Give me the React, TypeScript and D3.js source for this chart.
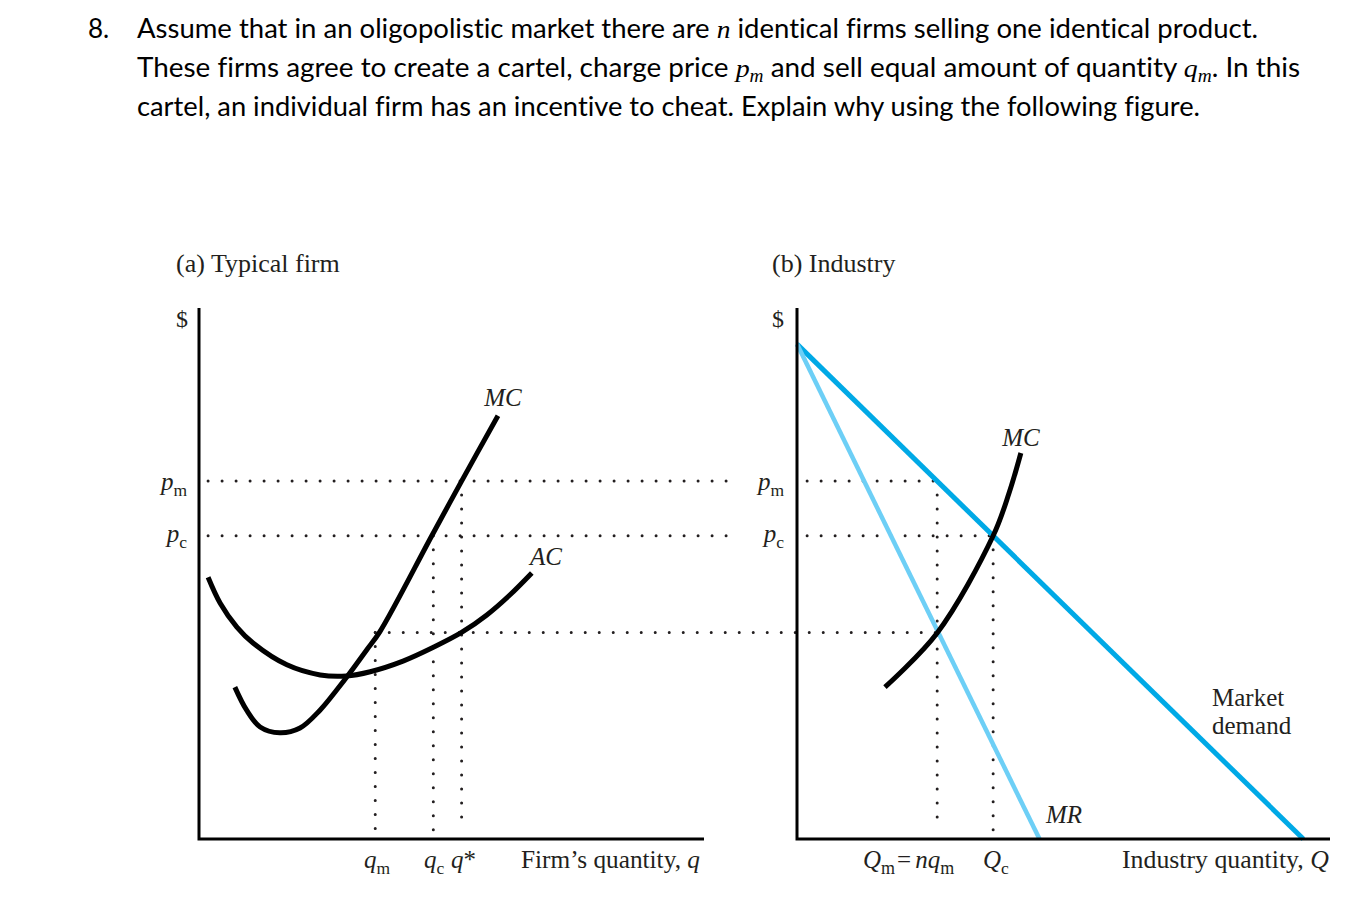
import React from "react";
import * as d3 from "d3";

const W = 1354;
const H = 910;

// ---- key levels (abstract units, 0..100) ----
const priceLevels = { pm: 67.4, pc: 57.1, pAC: 38.9 };
const firmQty = { qm: 34.9, qc: 46.4, qStar: 52.0 };
const industryQty = { Qm: 26.3, Qc: 36.8 };

// ---- panel (a) typical firm ----
const firmMC: [number, number][] = [
  [7.1, 28.6], [9.4, 24.3], [12.1, 21.1], [16.0, 20.0], [20.0, 20.9], [24.0, 24.3],
  [27.3, 28.1], [29.9, 31.3], [33.2, 35.6], [35.8, 39.0], [46.1, 57.1], [52.0, 67.4], [59.2, 79.7],
];
const firmAC: [number, number][] = [
  [1.8, 49.3], [4.2, 44.4], [7.5, 39.9], [10.7, 36.9], [17.4, 32.8], [24.0, 30.9], [29.2, 30.7],
  [33.9, 31.5], [40.4, 33.5], [46.4, 36.1], [52.0, 38.9], [57.0, 42.2], [61.6, 46.0], [65.9, 50.1],
];

// ---- panel (b) industry ----
const demand: [number, number][] = [[0, 93.2], [95, 0]];
const marginalRevenue: [number, number][] = [[0, 93.2], [45.5, 0]];
const industryMC: [number, number][] = [
  [16.5, 28.6], [26.3, 38.8], [36.8, 57.1], [39.8, 65.2], [42.0, 72.7],
];

const SERIF = '"Liberation Serif", "Times New Roman", serif';
const SANS = 'Lato, "Open Sans", sans-serif';
const INK = "#231f20";
const DEMAND_BLUE = "#00a9e6";
const MR_BLUE = "#6dcff6";

const xA = d3.scaleLinear().domain([0, 100]).range([199, 704]);
const yA = d3.scaleLinear().domain([0, 100]).range([839, 308]);
const xB = d3.scaleLinear().domain([0, 100]).range([797, 1330]);
const yB = d3.scaleLinear().domain([0, 100]).range([839, 308]);

const lineA = d3.line<[number, number]>().x((d) => xA(d[0])).y((d) => yA(d[1])).curve(d3.curveCatmullRom.alpha(0.5));
const lineB = d3.line<[number, number]>().x((d) => xB(d[0])).y((d) => yB(d[1])).curve(d3.curveCatmullRom.alpha(0.5));
const straightB = d3.line<[number, number]>().x((d) => xB(d[0])).y((d) => yB(d[1]));

const dotStyle = {
  stroke: INK,
  strokeWidth: 3,
  strokeDasharray: "0 14",
  strokeLinecap: "round" as const,
  fill: "none",
};

function Dotted({ x1, y1, x2, y2 }: { x1: number; y1: number; x2: number; y2: number }) {
  return <line x1={x1} y1={y1} x2={x2} y2={y2} style={dotStyle} />;
}

function Sub({ base, sub, x, y, anchor = "start", size = 25 }: { base: string; sub: string; x: number; y: number; anchor?: string; size?: number }) {
  return (
    <text x={x} y={y} fontFamily={SERIF} fontSize={size} fill={INK} textAnchor={anchor as any}>
      <tspan fontStyle="italic">{base}</tspan>
      <tspan fontSize={size * 0.7} dy={6}>{sub}</tspan>
    </text>
  );
}

export default function App() {
  const { pm, pc, pAC } = priceLevels;
  const { qm, qc, qStar } = firmQty;
  const { Qm, Qc } = industryQty;
  const titleSize = 26;
  return (
    <svg width={W} height={H} viewBox={`0 0 ${W} ${H}`} style={{ position: "absolute", left: 0, top: 0, background: "#fff" }}>
      {/* title */}
      <g fontFamily={SANS} fontSize={titleSize} fill="#000" style={{ fontVariantLigatures: "none" }}>
        <text x={88} y={38}>8.</text>
        <text x={137} y={38} textLength={1121} lengthAdjust="spacingAndGlyphs">
          Assume that in an oligopolistic market there are{" "}
          <tspan fontFamily={SERIF} fontStyle="italic">n</tspan> identical firms selling one identical product.
        </text>
        <text x={137} y={77} textLength={1163} lengthAdjust="spacingAndGlyphs">
          These firms agree to create a cartel, charge price{" "}
          <tspan fontFamily={SERIF} fontStyle="italic">p</tspan>
          <tspan fontFamily={SERIF} fontStyle="italic" fontSize={18} dy={5}>m</tspan>
          <tspan dy={-5}> and sell equal amount of quantity </tspan>
          <tspan fontFamily={SERIF} fontStyle="italic">q</tspan>
          <tspan fontFamily={SERIF} fontStyle="italic" fontSize={18} dy={5}>m</tspan>
          <tspan dy={-5}>. In this</tspan>
        </text>
        <text x={137} y={116} textLength={1063} lengthAdjust="spacingAndGlyphs">
          cartel, an individual firm has an incentive to cheat. Explain why using the following figure.
        </text>
      </g>

      {/* panel titles */}
      <text x={176} y={272} fontFamily={SERIF} fontSize={26} fill={INK}>(a) Typical firm</text>
      <text x={772} y={272} fontFamily={SERIF} fontSize={26} fill={INK}>(b) Industry</text>

      {/* dotted guides */}
      <Dotted x1={xA(1.8)} y1={yA(pm)} x2={xA(107)} y2={yA(pm)} />
      <Dotted x1={xA(1.8)} y1={yA(pc)} x2={xA(107)} y2={yA(pc)} />
      <Dotted x1={xA(qm)} y1={yA(pAC)} x2={xB(Qm)} y2={yB(pAC)} />
      <Dotted x1={xA(qm)} y1={yA(pAC)} x2={xA(qm)} y2={yA(1.5)} />
      <Dotted x1={xA(qc)} y1={yA(pc)} x2={xA(qc)} y2={yA(1.5)} />
      <Dotted x1={xA(qStar)} y1={yA(pm)} x2={xA(qStar)} y2={yA(1.5)} />
      <Dotted x1={xB(1.9)} y1={yB(pm)} x2={xB(Qm)} y2={yB(pm)} />
      <Dotted x1={xB(1.9)} y1={yB(pc)} x2={xB(Qc)} y2={yB(pc)} />
      <Dotted x1={xB(Qm)} y1={yB(pm)} x2={xB(Qm)} y2={yB(1.5)} />
      <Dotted x1={xB(Qc)} y1={yB(pc)} x2={xB(Qc)} y2={yB(1.5)} />

      {/* panel (a) curves */}
      <path d={lineA(firmAC) ?? ""} fill="none" stroke="#000" strokeWidth={5} />
      <path d={lineA(firmMC) ?? ""} fill="none" stroke="#000" strokeWidth={5} />

      {/* panel (b) curves */}
      <path d={straightB(demand) ?? ""} fill="none" stroke={DEMAND_BLUE} strokeWidth={5} />
      <path d={straightB(marginalRevenue) ?? ""} fill="none" stroke={MR_BLUE} strokeWidth={4.5} />
      <path d={lineB(industryMC) ?? ""} fill="none" stroke="#000" strokeWidth={5} />

      {/* axes */}
      <path d={`M${xA(0)},${yA(100)}V${yA(0)}H${xA(100)}`} fill="none" stroke="#000" strokeWidth={3} />
      <path d={`M${xB(0)},${yB(100)}V${yB(0)}H${xB(100)}`} fill="none" stroke="#000" strokeWidth={3} />

      {/* panel (a) labels */}
      <text x={182} y={327} fontFamily={SERIF} fontSize={24} fill={INK} textAnchor="middle">$</text>
      <Sub base="p" sub="m" x={187} y={490} anchor="end" />
      <Sub base="p" sub="c" x={187} y={542} anchor="end" />
      <text x={503} y={406} fontFamily={SERIF} fontStyle="italic" fontSize={25} fill={INK} textAnchor="middle">MC</text>
      <text x={546} y={565} fontFamily={SERIF} fontStyle="italic" fontSize={25} fill={INK} textAnchor="middle">AC</text>
      <Sub base="q" sub="m" x={364} y={868} />
      <Sub base="q" sub="c" x={424} y={868} />
      <text x={451} y={868} fontFamily={SERIF} fontSize={25} fill={INK}>
        <tspan fontStyle="italic">q</tspan>*
      </text>
      <text x={521} y={868} fontFamily={SERIF} fontSize={25.3} fill={INK}>
        Firm’s quantity, <tspan fontStyle="italic">q</tspan>
      </text>

      {/* panel (b) labels */}
      <text x={778} y={327} fontFamily={SERIF} fontSize={24} fill={INK} textAnchor="middle">$</text>
      <Sub base="p" sub="m" x={784} y={490} anchor="end" />
      <Sub base="p" sub="c" x={784} y={542} anchor="end" />
      <text x={1021} y={446} fontFamily={SERIF} fontStyle="italic" fontSize={25} fill={INK} textAnchor="middle">MC</text>
      <text x={1046} y={823} fontFamily={SERIF} fontStyle="italic" fontSize={25} fill={INK}>MR</text>
      <text x={1212} y={706} fontFamily={SERIF} fontSize={25} fill={INK}>Market</text>
      <text x={1212} y={734} fontFamily={SERIF} fontSize={25} fill={INK}>demand</text>
      <text x={863} y={868} fontFamily={SERIF} fontSize={25} fill={INK}>
        <tspan fontStyle="italic">Q</tspan>
        <tspan fontSize={18} dy={6}>m</tspan>
        <tspan dy={-6} dx={2}>=</tspan>
        <tspan fontStyle="italic" dx={4}>nq</tspan>
        <tspan fontSize={18} dy={6}>m</tspan>
      </text>
      <Sub base="Q" sub="c" x={983} y={868} />
      <text x={1122} y={868} fontFamily={SERIF} fontSize={25.8} fill={INK}>
        Industry quantity, <tspan fontStyle="italic">Q</tspan>
      </text>
    </svg>
  );
}
